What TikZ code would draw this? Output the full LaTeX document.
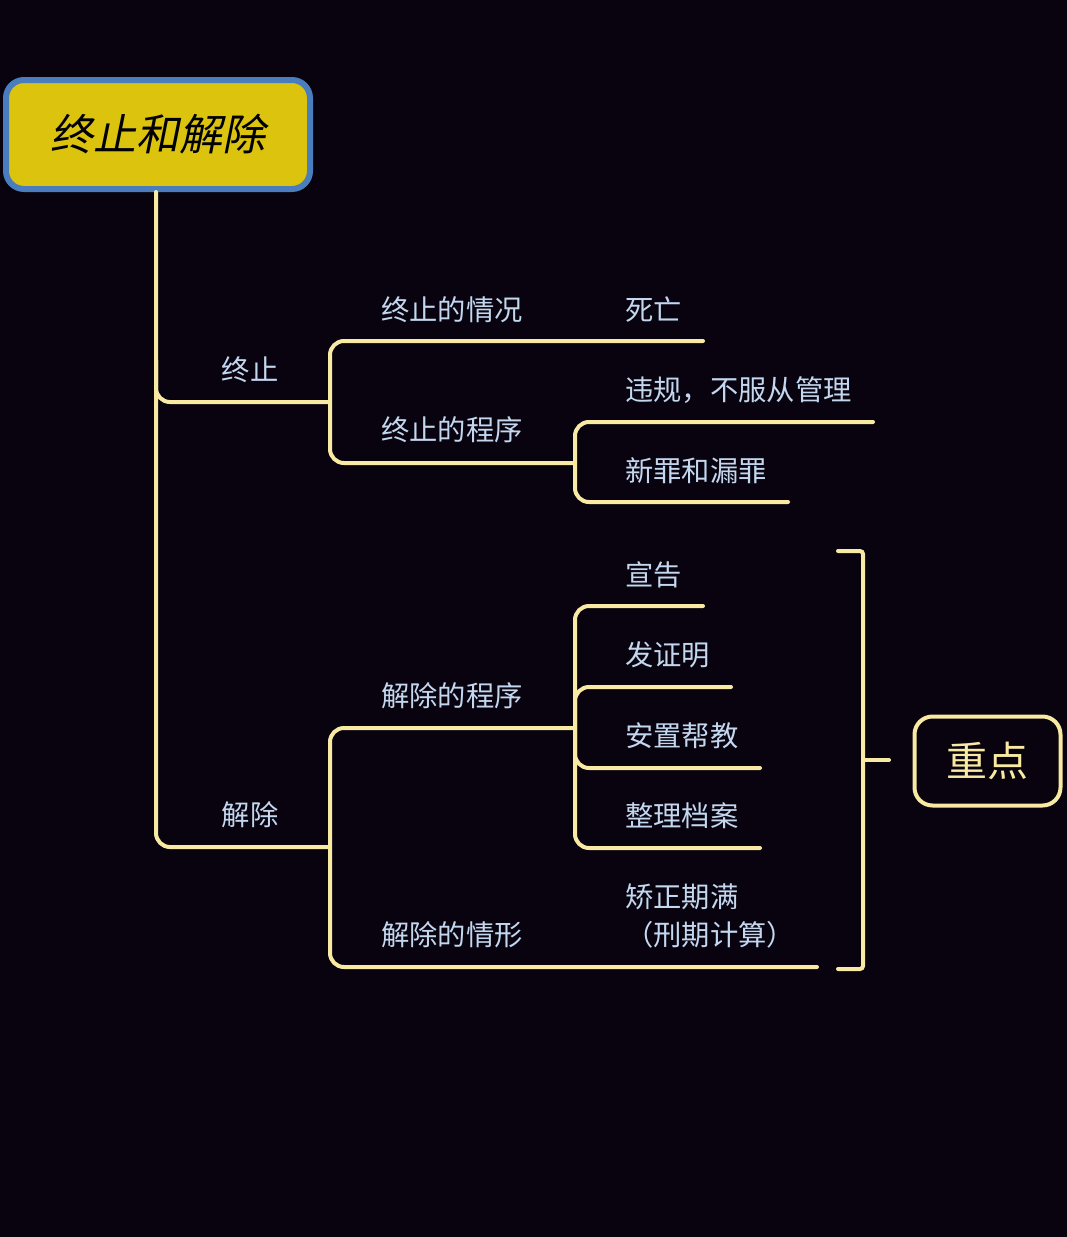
\documentclass[tikz,border=0pt]{standalone}
\usepackage{fontspec}
\setmainfont{Noto Sans CJK SC}
\newfontfamily\cjkit[FakeSlant=0.2]{Noto Sans CJK SC}
\definecolor{bg}{HTML}{08030F}
\definecolor{rootyellow}{HTML}{DCC30E}
\definecolor{rootblue}{HTML}{4A7DBE}
\definecolor{lncol}{HTML}{F8EAA2}
\definecolor{txtcol}{HTML}{C3D7EF}
\begin{document}
\begin{tikzpicture}[x=1pt,y=-1pt,
  ln/.style={draw=lncol, line width=4pt, line cap=round, rounded corners=14pt},
  lbl/.style={text=txtcol, font=\fontsize{28.3}{34}\selectfont, inner sep=0pt},
  lblw/.style={lbl, anchor=west}]
\fill[bg] (0,0) rectangle (1067,1237);
\useasboundingbox (0,0) rectangle (1067,1237);

% root
\node[draw=rootblue, line width=6pt, fill=rootyellow, rounded corners=18pt,
      minimum width=304pt, minimum height=109pt, inner sep=0pt] (root) at (158,134.5)
      {\cjkit\fontsize{43}{43}\selectfont 终止和解除};

% coordinates
\coordinate (trtop) at (156,192);
\coordinate (zz) at (330,402);
\coordinate (jc) at (330,847);
\coordinate (cx) at (575,463);
\coordinate (jp) at (575,728);
\coordinate (swend) at (703,341);
\coordinate (wgend) at (873,422);
\coordinate (xzend) at (788,502);
\coordinate (jqend) at (817,967);
\coordinate (xgend) at (703,606);
\coordinate (fzend) at (731,687);
\coordinate (azend) at (760,768);
\coordinate (zlend) at (760,848);
\coordinate (btop) at (838,551);
\coordinate (bbot) at (838,969);
\coordinate (bmid) at (863,760);
\coordinate (tick) at (889,760);

% trunk
\draw[ln] (trtop) |- (jc);
\draw[ln] (156,360) |- (zz);

% 终止 bracket
\draw[ln] (zz) |- (swend);
\draw[ln] (zz) |- (cx);
\draw[ln] (cx) |- (wgend);
\draw[ln] (cx) |- (xzend);

% 解除 bracket
\draw[ln] (jc) |- (jp);
\draw[ln] (jc) |- (jqend);
\draw[ln] (jp) |- (xgend);
\draw[ln] (jp) |- (fzend);
\draw[ln] (jp) |- (azend);
\draw[ln] (jp) |- (zlend);

% right bracket
\draw[ln, rounded corners=3pt] (btop) -- (btop -| bmid) -- (bbot -| bmid) -- (bbot);
\draw[ln] (bmid) -- (tick);

% key node
\node[draw=lncol, line width=4pt, rounded corners=18pt, minimum width=146pt,
      minimum height=89pt, inner sep=0pt, text=lncol] (zd) at (987.5,761)
      {\fontsize{41}{41}\selectfont 重点};

% labels
\node[lbl] (l1) at (250,370) {终止};
\node[lbl] (l2) at (250,815) {解除};
\node[lblw] (a1) at (381,310) {终止的情况};
\node[lblw] (a2) at (381,430) {终止的程序};
\node[lblw] (a3) at (381,696) {解除的程序};
\node[lblw] (a4) at (381,935) {解除的情形};
\node[lblw] (b1) at (625,310) {死亡};
\node[lblw] (b2) at (625,390) {违规，不服从管理};
\node[lblw] (b3) at (625,471) {新罪和漏罪};
\node[lblw] (c1) at (625,575) {宣告};
\node[lblw] (c2) at (625,655) {发证明};
\node[lblw] (c3) at (625,736) {安置帮教};
\node[lblw] (c4) at (625,816) {整理档案};
\node[lblw] (c5) at (625,897) {矫正期满};
\node[lblw] (c6) at (625,935) {（刑期计算）};
\end{tikzpicture}
\end{document}
